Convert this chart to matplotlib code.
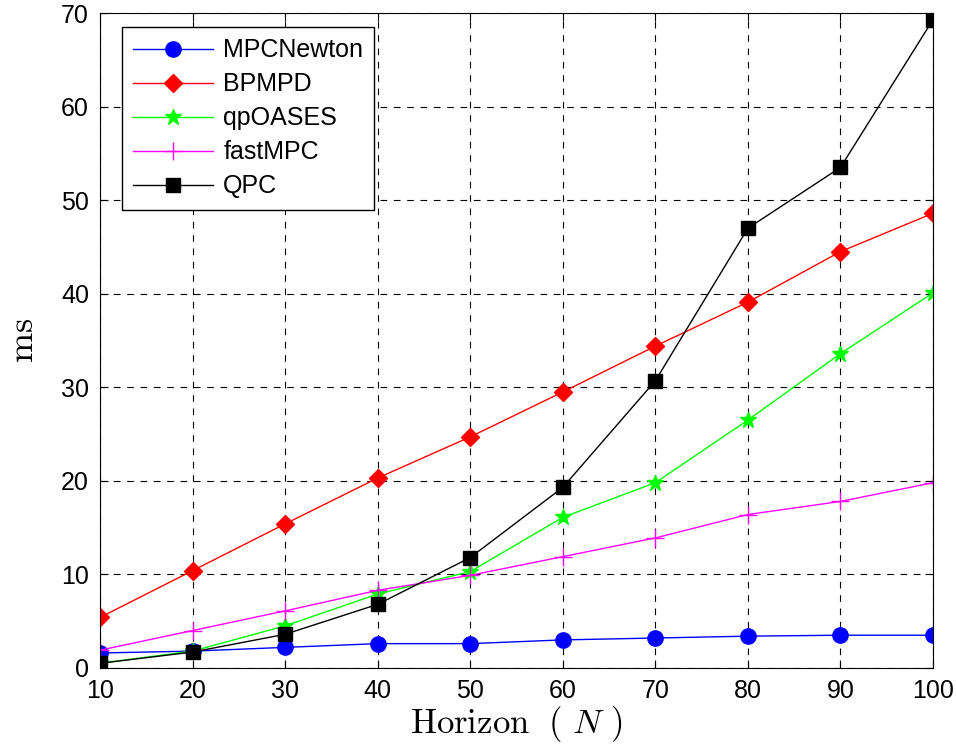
import matplotlib
matplotlib.use('Agg')
import matplotlib.pyplot as plt

# horizon lengths and solve times (ms)
horizon = [10, 20, 30, 40, 50, 60, 70, 80, 90, 100]
mpcnewton = [1.6, 1.8, 2.2, 2.6, 2.6, 3.0, 3.2, 3.4, 3.5, 3.5]
bpmpd = [5.4, 10.4, 15.4, 20.3, 24.7, 29.5, 34.4, 39.1, 44.5, 48.6]
qpoases = [0.5, 1.8, 4.5, 7.9, 10.3, 16.1, 19.8, 26.5, 33.6, 40.1]
fastmpc = [1.9, 4.0, 6.1, 8.3, 9.9, 11.9, 13.9, 16.4, 17.8, 19.8]
qpc = [0.5, 1.7, 3.6, 6.8, 11.8, 19.3, 30.7, 47.0, 53.5, 69.3]

plt.rcParams['font.family'] = ['Liberation Sans', 'DejaVu Sans']
plt.rcParams['mathtext.fontset'] = 'cm'

fig = plt.figure(figsize=(9.56, 7.44), dpi=100)
ax = fig.add_axes([0.1046, 0.1022, 0.8714, 0.8803])

ax.plot(horizon, mpcnewton, '-o', color='blue', lw=1, ms=11, label='MPCNewton')
ax.plot(horizon, bpmpd, '-D', color='red', lw=1, ms=9, label='BPMPD')
ax.plot(horizon, qpoases, '-*', color='lime', lw=1, ms=12, label='qpOASES')
ax.plot(horizon, fastmpc, '-+', color='magenta', lw=1, ms=13, mew=1, label='fastMPC')
ax.plot(horizon, qpc, '-s', color='black', lw=1, ms=10, label='QPC')

ax.set_xlim(10, 100)
ax.set_ylim(0, 70)
ax.set_xticks(horizon)
ax.set_yticks(range(0, 71, 10))
ax.tick_params(direction='in', labelsize=18, length=6, top=True, right=True)
ax.tick_params(axis='x', pad=8)
ax.tick_params(axis='y', pad=8)
ax.grid(True, color='black', linestyle=(0, (6, 6)), lw=0.8)

ax.set_xlabel(r'$\mathrm{Horizon}\ \ (\ N\ )$', fontsize=25, labelpad=1)
ax.set_ylabel(r'$\mathrm{ms}$', fontsize=26, labelpad=14)

leg = ax.legend(loc='upper left', bbox_to_anchor=(0.0264, 0.9786), borderaxespad=0,
                fontsize=18, fancybox=False, edgecolor='black', framealpha=1,
                handlelength=3.2, handletextpad=0.4, labelspacing=0.4,
                borderpad=0.45)
leg.get_frame().set_linewidth(1)

fig.savefig('out.png', dpi=100)
